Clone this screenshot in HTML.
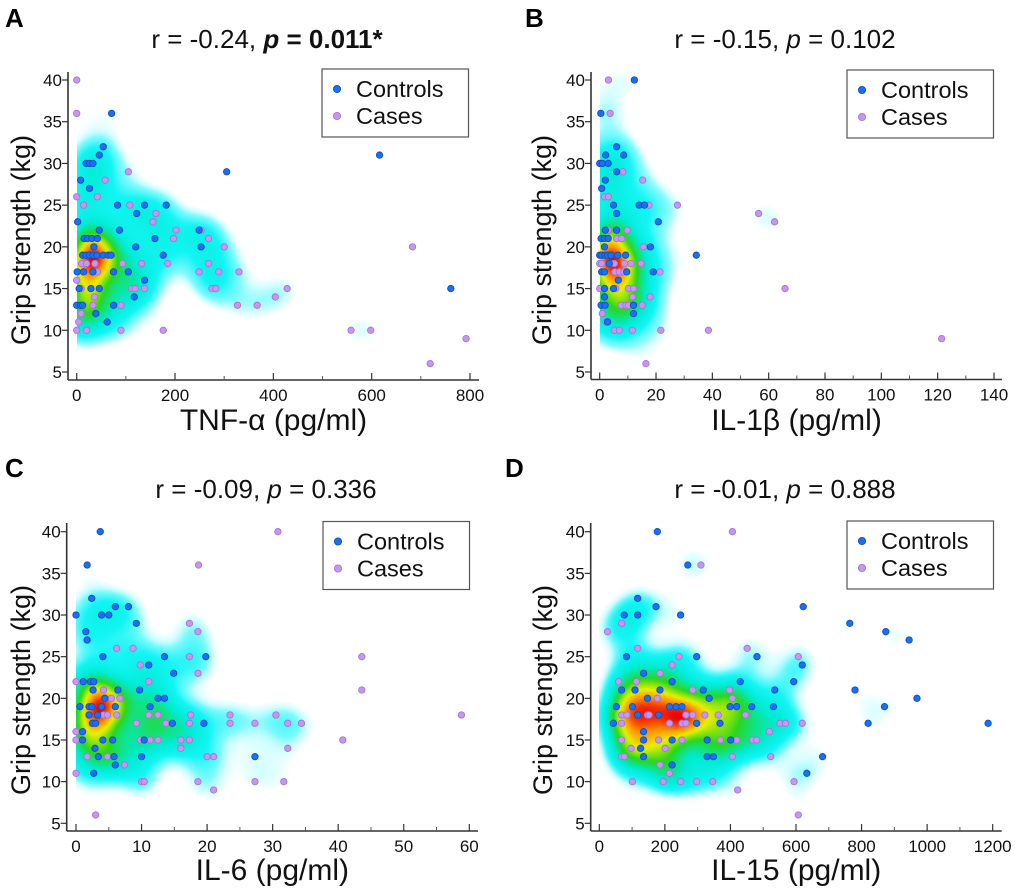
<!DOCTYPE html>
<html><head><meta charset="utf-8">
<style>
html,body{margin:0;padding:0;background:#fff;}
#wrap{position:relative;width:1020px;height:894px;overflow:hidden;font-family:"Liberation Sans",Arial,sans-serif;}
canvas{position:absolute;}
svg{position:absolute;left:0;top:0;}
</style></head>
<body>
<div id="wrap">
<svg id="fig" width="1020" height="894" xmlns="http://www.w3.org/2000/svg"></svg>
</div>
<script>
// ---- Panel A: TNF-alpha ----
const aCtrlX=[71,54,46,19,26,33,8,26,2,83,138,182,122,46,87,249,15,22,31,42,159,35,120,253,12,19,26,33,41,54,64,70,176,1,14,33,75,105,138,5,29,46,117,0,8,12,75,39,62,305,616,761];
const aCtrlY=[36,32,31,30,30,30,28,27,23,25,25,25,24,22,22,22,21,21,21,21,21,20,20,20,19,19,19,19,19,19,19,19,19,17,17,17,17,17,16,15,15,15,14,13,13,13,13,12,11,29,31,15];
const aCaseX=[0,0,105,58,0,42,14,108,161,155,202,253,197,268,300,683,10,20,37,93,132,185,268,42,249,289,330,0,9,112,119,138,275,283,428,36,404,33,90,327,367,9,4,0,20,90,176,558,598,792,719];
const aCaseY=[40,36,29,28,26,26,25,25,24,23,22,22,21,21,20,20,18,18,18,18,18,18,18,17,17,17,17,16,15,15,15,15,15,15,15,14,14,13,13,13,13,12,11,10,10,10,10,10,10,9,6];
// ---- Panel B: IL-1beta ----
const bCtrlX=[12.3,0.4,6,2.1,8.5,0,1,3,6,2,0.7,4.9,14,15.9,6,20.8,2,6,0.5,1.7,3,1.7,18,0,0.7,1.9,2.8,4,6.4,9.2,34.3,3.4,0.7,1.7,9.6,19,6.6,1.7,4.9,1.7,0.5,1.9,12,12,2.8];
const bCtrlY=[40,36,32,31,31,30,30,30,29,28,27,25,25,25,24,23,22,22,21,21,21,20,20,19,19,19,19,19,19,19,19,18,17,17,17,17,16,15,15,14,13,13,13,12,11];
const bCaseX=[3.1,3.7,8.2,15.3,1.7,3.1,17.5,27.6,56.4,62.1,3.1,9.8,6,7.8,15.5,0,0.7,3.7,5.2,8.8,11.1,14.7,5.4,7,8.6,21.4,0,5.7,10.2,12,65.8,11.6,17.9,7.6,9.3,10.2,15.1,0.9,2.2,5.2,7,11.6,21.7,38.6,121.4,16.4];
const bCaseY=[40,36,29,28,26,26,25,25,24,23,22,22,21,21,20,18,18,18,18,18,18,18,17,17,17,17,15,15,15,15,15,14,14,13,13,13,13,12,11,10,10,10,10,10,9,6];
// ---- Panel C: IL-6 ----
const cCtrlX=[3.7,1.7,2.4,6,8,0,3.9,5,9.2,1.5,1.7,4.1,13.5,19.8,11.1,14.9,1.1,2.2,2.7,2.6,6.4,9.7,4.4,12.5,13.5,0.6,2,2.4,3.9,6,11.3,2,3.3,2.5,3,14.7,19.5,1,1,4.1,5.6,10.4,2.9,3.4,5.8,10,27.3,6,2.7];
const cCtrlY=[40,36,32,31,31,30,30,30,29,28,27,25,25,25,24,23,22,22,22,21,21,21,20,20,20,19,19,19,19,19,19,18,18,17,17,17,17,16,15,15,15,15,14,13,13,13,13,12,11];
const cCaseX=[30.8,18.7,17.3,18.6,6.2,8.7,17.3,43.6,9.8,18.6,0,11.1,4.2,43.6,5.4,6.7,4.2,4.8,6.2,11.1,12.5,17.5,23.5,30.5,58.8,9.2,13.7,17.3,23.5,27.3,32.3,34.4,0,0,9.8,11.3,12.5,16,17.3,40.7,16,32.3,1.7,4.8,20,21,7.4,0,10,10.4,18.6,27.3,31.7,21,3];
const cCaseY=[40,36,29,28,26,26,25,25,24,23,22,22,21,21,20,20,18,18,18,18,18,18,18,18,18,17,17,17,17,17,17,17,16,15,15,15,15,15,15,15,14,14,13,13,13,13,12,11,10,10,10,10,10,9,6];
// ---- Panel D: IL-15 ----
const dCtrlX=[177,270,117,173,622,76,117,248,764,874,945,83,297,481,619,135,222,430,593,68,109,185,317,535,780,147,335,969,52,101,214,234,252,399,419,465,531,870,117,181,43,297,368,820,1186,135,135,222,329,401,126,135,329,348,681,222,633];
const dCtrlY=[40,36,32,31,31,30,30,30,29,28,27,25,25,25,24,23,22,22,22,21,21,21,21,21,21,20,20,20,19,19,19,19,19,19,19,19,19,19,18,18,17,17,17,17,17,16,15,15,15,15,14,13,13,13,13,12,11];
const dCaseX=[406,310,25,68,117,451,243,607,222,185,59,113,285,397,177,406,68,84,147,152,264,285,322,363,446,68,214,252,264,551,568,619,519,68,181,252,369,419,467,480,97,201,68,76,406,523,185,214,101,195,248,297,346,594,422,607];
const dCaseY=[40,36,28,29,26,26,25,25,24,23,22,22,21,21,20,20,18,18,18,18,18,18,18,18,18,17,17,17,17,17,17,17,16,15,15,15,15,15,15,15,14,14,13,13,13,13,12,11,10,10,10,10,10,10,9,6];

const yTicks=[5,10,15,20,25,30,35,40];
const aXTicks=[0,200,400,600,800];
const bXTicks=[0,20,40,60,80,100,120,140];
const cXTicks=[0,10,20,30,40,50,60];
const dXTicks=[0,200,400,600,800,1000,1200];

const NS="http://www.w3.org/2000/svg";
const svg=document.getElementById('fig');
const wrap=document.getElementById('wrap');
function mk(tag,attrs,parent){const e=document.createElementNS(NS,tag);for(const k in attrs)e.setAttribute(k,attrs[k]);(parent||svg).appendChild(e);return e;}

const panels=[
 {id:'a',letter:'A',r:'-0.24',p:'0.011*',sig:true,xlab:'TNF-α (pg/ml)',cx:aCtrlX,cy:aCtrlY,kx:aCaseX,ky:aCaseY,ticks:aXTicks,
  axL:68,axB:380,axT:72,axR:479,x0:76.7,x1:470,y40:80,y5:372,ox:0,oy:0,tcx:267,leg:[322,69]},
 {id:'b',letter:'B',r:'-0.15',p:'0.102',sig:false,xlab:'IL-1β (pg/ml)',cx:bCtrlX,cy:bCtrlY,kx:bCaseX,ky:bCaseY,ticks:bXTicks,
  axL:591,axB:379.5,axT:72,axR:1002,x0:599.7,x1:994,y40:80,y5:372,ox:520,oy:0,tcx:785,leg:[847,70]},
 {id:'c',letter:'C',r:'-0.09',p:'0.336',sig:false,xlab:'IL-6 (pg/ml)',cx:cCtrlX,cy:cCtrlY,kx:cCaseX,ky:cCaseY,ticks:cXTicks,
  axL:66.7,axB:831,axT:523,axR:478,x0:76,x1:469.3,y40:531.7,y5:823.3,ox:0,oy:450,tcx:266,leg:[323,521.5]},
 {id:'d',letter:'D',r:'-0.01',p:'0.888',sig:false,xlab:'IL-15 (pg/ml)',cx:dCtrlX,cy:dCtrlY,kx:dCaseX,ky:dCaseY,ticks:dXTicks,
  axL:590.7,axB:831,axT:523,axR:1001.7,x0:599.3,x1:992.7,y40:531.7,y5:823.3,ox:500,oy:450,tcx:785,leg:[847,521]}
];

function lerp(a,b,t){return a+(b-a)*t;}
const stops=[[0,[170,252,255]],[0.12,[20,245,245]],[0.3,[0,235,210]],[0.52,[40,215,30]],[0.72,[235,240,0]],[0.86,[255,140,0]],[1,[238,0,0]]];
function cmap(u){for(let i=1;i<stops.length;i++){if(u<=stops[i][0]){const s0=stops[i-1],s1=stops[i];const t=(u-s0[0])/(s1[0]-s0[0]);return [lerp(s0[1][0],s1[1][0],t),lerp(s0[1][1],s1[1][1],t),lerp(s0[1][2],s1[1][2],t)];}}return stops[stops.length-1][1];}

panels.forEach(P=>{
  const xmax=P.ticks[P.ticks.length-1];
  const sx=v=>P.x0+(v/xmax)*(P.x1-P.x0);
  const sy=v=>P.y40+(40-v)/35*(P.y5-P.y40);
  const g=mk('g',{});
  
  

  // heatmap (KDE of all points)
  const pts=[];
  for(let i=0;i<P.cx.length;i++)pts.push([sx(P.cx[i]),sy(P.cy[i])]);
  for(let i=0;i<P.kx.length;i++)pts.push([sx(P.kx[i]),sy(P.ky[i])]);
  const L=P.x0,T=P.axT,W=Math.round(P.axR-P.x0),H=Math.round(P.axB-P.axT);
  const step=2,cw=Math.ceil(W/step),ch=Math.ceil(H/step);
  const cv=document.createElement('canvas');
  cv.width=cw;cv.height=ch;
  cv.style.left=L+'px';cv.style.top=T+'px';cv.style.width=(cw*step)+'px';cv.style.height=(ch*step)+'px';
  
  
  wrap.insertBefore(cv,svg);
  const s=16,inv=1/(2*s*s),cut=(4*s)*(4*s);
  const dens=new Float32Array(cw*ch);let mx=0;
  for(let j=0;j<ch;j++){const py=T+j*step+step/2;
    for(let i=0;i<cw;i++){const px=L+i*step+step/2;let d=0;
      for(const q of pts){const dx=px-q[0],dy=py-q[1];const r2=dx*dx+dy*dy;if(r2<cut)d+=Math.exp(-r2*inv);}
      dens[j*cw+i]=d;if(d>mx)mx=d;}}
  const ctx=cv.getContext('2d');const img=ctx.createImageData(cw,ch);
  const Th=1.8;
  for(let k=0;k<dens.length;k++){const d=dens[k];const a=Math.max(0,Math.min(1,(d-Th*0.7)/(Th*0.6)));
    if(a<=0)continue;let u=Math.max(0,Math.min(1,(d-Th)/(mx-Th)));u=Math.pow(u,1.1);const c=cmap(u);
    img.data[k*4]=c[0];img.data[k*4+1]=c[1];img.data[k*4+2]=c[2];img.data[k*4+3]=Math.round(a*255);}
  ctx.putImageData(img,0,0);

  // axes
  const ya=mk('line',{x1:P.axL,y1:P.axT,x2:P.axL,y2:P.axB,stroke:'#333','stroke-width':1.6},g);
  
  const xa=mk('line',{x1:P.axL,y1:P.axB,x2:P.axR,y2:P.axB,stroke:'#333','stroke-width':1.6},g);
  
  yTicks.forEach(v=>{
    const t=mk('line',{x1:P.axL-6,y1:sy(v),x2:P.axL,y2:sy(v),stroke:'#333','stroke-width':1.2},g);
    
    const tl=mk('text',{x:P.axL-6,y:sy(v)+6,'text-anchor':'end','font-size':17,fill:'#111'},g);
    tl.textContent=v;
    
  });
  const stepV=P.ticks[1]-P.ticks[0];
  P.ticks.forEach((v,idx)=>{
    const t=mk('line',{x1:sx(v),y1:P.axB,x2:sx(v),y2:P.axB-7,stroke:'#333','stroke-width':1.2},g);
    
    if(idx<P.ticks.length-1){const m=mk('line',{x1:sx(v+stepV/2),y1:P.axB,x2:sx(v+stepV/2),y2:P.axB-4,stroke:'#555','stroke-width':1},g);
      }
    const tl=mk('text',{x:sx(v),y:P.axB+21,'text-anchor':'middle','font-size':17,fill:'#111'},g);
    tl.textContent=v;
    
  });

  // points
  for(let i=0;i<P.kx.length;i++){
    const c=mk('circle',{cx:sx(P.kx[i]),cy:sy(P.ky[i]),r:3.2,fill:'#c597f2',stroke:'#a676d6','stroke-width':0.9},g);
    
  }
  for(let i=0;i<P.cx.length;i++){
    const c=mk('circle',{cx:sx(P.cx[i]),cy:sy(P.cy[i]),r:3.2,fill:'#1b6ff5',stroke:'#1250c0','stroke-width':0.9},g);
    
  }

  // texts
  const lt=mk('text',{x:P.ox+5,y:P.oy+27,'font-size':26,'font-weight':'bold',fill:'#000'},g);
  lt.textContent=P.letter;
  
  const tt=mk('text',{x:P.tcx,y:P.oy+48,'text-anchor':'middle','font-size':26,fill:'#111'},g);
  
  const t1=mk('tspan',{},tt);t1.textContent='r = '+P.r+', ';
  const t2=mk('tspan',{'font-style':'italic','font-weight':P.sig?'bold':'normal'},tt);t2.textContent='p';
  const t3=mk('tspan',{'font-weight':P.sig?'bold':'normal'},tt);t3.textContent=' = '+P.p;
  const xl=mk('text',{x:(P.axL+P.axR)/2,y:P.oy+430,'text-anchor':'middle','font-size':30,fill:'#111'},g);
  xl.textContent=P.xlab;
  
  const ycx=P.ox+(P.id==='d'?43:P.id==='b'?22:21)+9,ycy=P.oy+240;
  const yl=mk('text',{x:ycx,y:ycy,'text-anchor':'middle','font-size':27,fill:'#111',transform:'rotate(-90 '+ycx+' '+ycy+')'},g);
  yl.textContent='Grip strength (kg)';
  

  // legend
  const lg=mk('g',{},g);
  
  const [lx,ly]=P.leg;
  mk('rect',{x:lx,y:ly,width:146.5,height:68,fill:'#fff',stroke:'#555','stroke-width':1.2},lg);
  const e1=mk('circle',{cx:lx+15,cy:ly+20,r:3.6,fill:'#1b6ff5',stroke:'#1250c0','stroke-width':0.9},lg);
  
  const e1t=mk('text',{x:lx+34,y:ly+28,'font-size':23.5,fill:'#111'},lg);e1t.textContent='Controls';
  
  const e2=mk('circle',{cx:lx+15,cy:ly+47,r:3.6,fill:'#c597f2',stroke:'#a676d6','stroke-width':0.9},lg);
  
  const e2t=mk('text',{x:lx+34,y:ly+55,'font-size':23.5,fill:'#111'},lg);e2t.textContent='Cases';
  
});
</script>
</body></html>
